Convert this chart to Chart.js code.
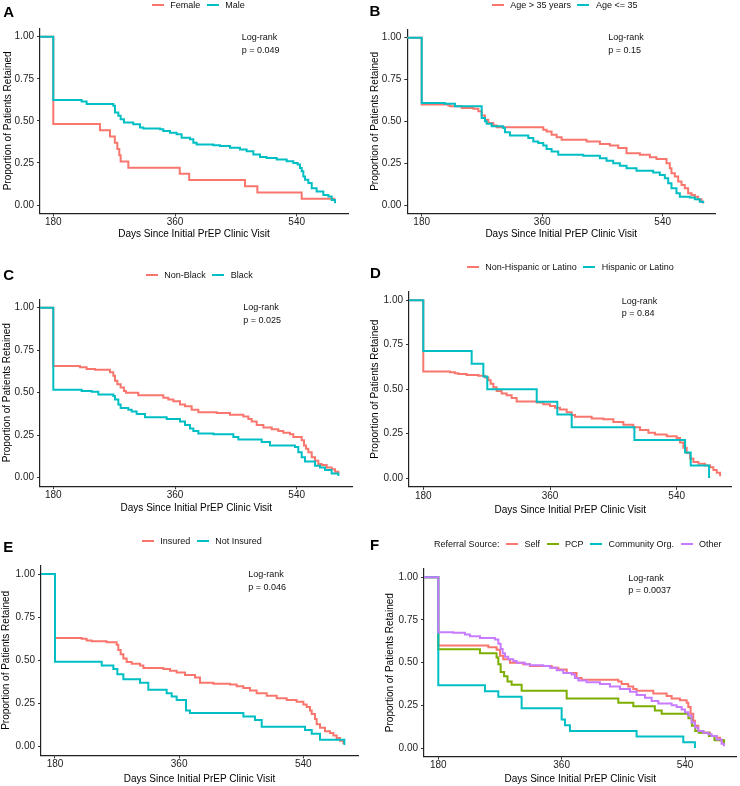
<!DOCTYPE html>
<html><head><meta charset="utf-8">
<script src="https://cdn.jsdelivr.net/npm/chart.js@4.4.0/dist/chart.umd.min.js"></script>
<style>
body{margin:0;background:#fff;width:740px;height:786px;position:relative;overflow:hidden;font-family:"Liberation Sans",Arial,sans-serif;color:#111;}
canvas{position:absolute;}
.tag{position:absolute;font-weight:bold;font-size:15px;line-height:15px;color:#000;}
.legend{position:absolute;display:flex;align-items:center;font-size:9px;line-height:12px;height:12px;white-space:nowrap;}
.key{display:inline-block;width:12px;height:2px;margin-right:6.5px;}
.lab{margin-right:6.5px;}
.lr{position:absolute;font-size:9px;line-height:12.5px;white-space:nowrap;}
</style>
</head><body>
<script>
// ---------- tick labels ----------
const xTicks = [180, 360, 540];
const yTicks = [0, 0.25, 0.5, 0.75, 1];

// ---------- A: Sex ----------
const aGroups = ["Female", "Male"];
const aFemaleDays = [0,180,249,263.8,271,274.7,277.6,279.6,291,367,381,463.5,481.8,547.4,597];
const aFemaleSurv = [1,0.481,0.444,0.407,0.370,0.333,0.296,0.259,0.222,0.185,0.148,0.111,0.074,0.037,0.037];
const aMaleDays = [0,180,221.9,229.3,268.8,271.2,276.2,279.6,284.5,298.3,308.2,313.1,337.8,342.7,352.6,362.4,369.8,382.2,387.1,392,416.7,426.6,441.3,456.1,466,475.9,485.7,495.6,510.4,525.2,535,541.4,544.9,547.4,549.8,552.3,557.2,562.2,569.5,579.4,586.8,591.7,596.7];
const aMaleSurv = [1,0.624,0.615,0.60,0.59,0.55,0.53,0.51,0.49,0.48,0.46,0.455,0.45,0.44,0.43,0.42,0.40,0.39,0.37,0.36,0.355,0.35,0.34,0.33,0.32,0.30,0.285,0.28,0.27,0.26,0.25,0.24,0.22,0.20,0.17,0.15,0.13,0.10,0.08,0.06,0.05,0.03,0.01];

// ---------- B: Age ----------
const bGroups = ["Age > 35 years", "Age <= 35"];
const bOlderDays = [0,180,219.8,222.3,239.7,257.1,264.6,269.6,274.5,279.5,287,291.9,361.6,366.6,374,381.5,389,426.3,446.2,461.1,473.5,486,505.9,520.8,530.7,545.7,550.6,553.1,558.1,563.1,568.1,573,578,583,588,592.9,597.9,600.4];
const bOlderSurv = [1,0.60,0.595,0.59,0.58,0.575,0.56,0.535,0.51,0.49,0.475,0.465,0.45,0.44,0.42,0.405,0.39,0.38,0.365,0.355,0.34,0.31,0.30,0.285,0.275,0.25,0.22,0.19,0.17,0.14,0.12,0.10,0.07,0.06,0.05,0.035,0.02,0.01];
const bYoungerDays = [0,180,214.8,229.8,269.6,274.5,277,284.5,301.9,304.4,311.8,339.2,346.7,354.1,361.6,366.6,374,384,421.3,446.2,456.1,466.1,476,486,500.9,525.8,535.7,543.2,548.2,553.1,560.6,565.6,580.5,588,595.4,600.4];
const bYoungerSurv = [1,0.61,0.605,0.59,0.52,0.50,0.485,0.47,0.46,0.435,0.415,0.40,0.38,0.37,0.355,0.335,0.32,0.30,0.295,0.28,0.265,0.25,0.235,0.22,0.205,0.195,0.18,0.16,0.13,0.10,0.07,0.05,0.045,0.035,0.02,0.01];

// ---------- C: Race ----------
const cGroups = ["Non-Black", "Black"];
const cNonBlackDays = [0,180,219.4,229.3,241.6,263.8,268.8,271.2,274.7,279.6,284.5,287.5,305.7,342.7,350.1,357.5,367.4,374.8,384.6,394.5,421.6,441.3,461.1,468.5,473.4,480.8,490.7,503,512.8,520.2,530.1,535,547.4,550.8,553.7,557.2,562.2,567.1,572,576.9,584.3,591.7,596.7,601.6];
const cNonBlackSurv = [1,0.657,0.65,0.64,0.635,0.62,0.60,0.57,0.55,0.53,0.51,0.50,0.485,0.47,0.46,0.45,0.43,0.42,0.40,0.385,0.38,0.37,0.36,0.345,0.33,0.31,0.295,0.285,0.275,0.265,0.255,0.24,0.22,0.19,0.17,0.15,0.12,0.10,0.08,0.075,0.06,0.05,0.035,0.02];
const cBlackDays = [0,180,221.9,236.7,246.6,268.8,271.2,276.2,279.6,290.9,295.9,303.3,315.6,347.7,367.4,374.8,382.2,387.1,394.5,416.7,446.3,453.7,488.2,500.5,537.5,542.4,547.4,552.3,567.1,574.5,581.9,591.7,601.6];
const cBlackSurv = [1,0.518,0.51,0.505,0.49,0.48,0.46,0.43,0.41,0.40,0.39,0.375,0.355,0.345,0.33,0.31,0.29,0.275,0.26,0.255,0.24,0.225,0.21,0.19,0.18,0.15,0.12,0.095,0.07,0.06,0.045,0.025,0.01];

// ---------- D: Ethnicity ----------
const dGroups = ["Non-Hispanic or Latino", "Hispanic or Latino"];
const dNonHispDays = [0,180,217.9,225,229.7,241.6,258.2,267.6,272.4,275.7,279.5,284.2,291.3,298.4,305.5,312.6,341.1,350.5,360,367.1,374.2,383.7,390.8,395.5,419.2,435.8,450,464.2,478.4,487.9,499.8,509.2,525.8,540,544.7,549.5,554.2,559,563.7,570.8,580.3,587.4,592.1,596.9,601.6];
const dNonHispSurv = [1,0.60,0.595,0.59,0.585,0.58,0.575,0.565,0.55,0.53,0.51,0.49,0.475,0.465,0.45,0.43,0.425,0.415,0.405,0.395,0.385,0.37,0.355,0.345,0.335,0.33,0.315,0.30,0.285,0.27,0.255,0.245,0.235,0.225,0.20,0.17,0.14,0.11,0.09,0.08,0.07,0.06,0.045,0.03,0.01];
const dHispDays = [0,180,248.7,265.3,270.9,341.1,370.4,390.8,479.9,551.9,559.9,586];
const dHispSurv = [1,0.714,0.643,0.571,0.50,0.429,0.357,0.286,0.214,0.143,0.071,0];

// ---------- E: Insurance ----------
const eGroups = ["Insured", "Not Insured"];
const eInsuredDays = [0,180,218.7,225.9,233.2,254.9,269.4,271.8,275.2,279.1,283.9,291.2,303.2,308.1,337.1,346.7,356.4,368.5,383,390.2,409.6,433.7,443.4,453.1,462.7,472.4,486.9,501.4,515.9,530.4,540.1,544.9,549.7,552.2,557,559.4,564.2,571.5,578.7,583.6,588.4,593.2,598.1];
const eInsuredSurv = [1,0.63,0.625,0.615,0.61,0.605,0.59,0.56,0.535,0.51,0.49,0.48,0.47,0.455,0.45,0.44,0.43,0.415,0.40,0.37,0.365,0.36,0.35,0.34,0.325,0.31,0.295,0.28,0.27,0.26,0.245,0.23,0.21,0.19,0.16,0.13,0.11,0.09,0.08,0.065,0.05,0.035,0.015];
const eUninsuredDays = [0,180,247.7,264.6,270.4,279.1,303.2,315.3,341.9,349.2,356.4,369.9,375.7,453.1,470,479.7,542.5,552.2,564.2,599.5];
const eUninsuredSurv = [1,0.492,0.47,0.45,0.42,0.39,0.37,0.33,0.31,0.29,0.27,0.21,0.195,0.175,0.155,0.115,0.097,0.075,0.04,0.01];

// ---------- F: Referral source ----------
const fGroups = ["Self", "PCP", "Community Org.", "Other"];
const fSelfDays = [0,180,253,265.1,270,274.8,284.6,304,313.8,345.4,355.1,367.3,381.8,389.1,442.6,447.5,457.2,464.5,469.4,493.7,513.2,520.5,532.6,542.4,544.8,548.2,552.1,554.5,559.4,566.7,576.4,586.1,591,595.9];
const fSelfSurv = [1,0.60,0.59,0.575,0.54,0.52,0.50,0.49,0.48,0.47,0.46,0.44,0.41,0.40,0.39,0.375,0.36,0.345,0.335,0.32,0.305,0.29,0.28,0.265,0.24,0.20,0.16,0.13,0.10,0.09,0.07,0.06,0.045,0.02];
const fPcpDays = [0,180,240.8,265,267.6,271,276,281,287,301.6,367.3,442.7,464.6,496,506,545,550,555,560,575,583,597];
const fPcpSurv = [1,0.578,0.555,0.53,0.49,0.445,0.42,0.39,0.37,0.335,0.29,0.265,0.245,0.22,0.20,0.175,0.13,0.10,0.09,0.07,0.045,0.02];
const fCommunityDays = [0,180,248.1,267.6,301.6,360,364.8,372.1,469.4,537.5,554.5];
const fCommunitySurv = [1,0.367,0.333,0.30,0.233,0.167,0.133,0.10,0.067,0.033,0];
const fOtherDays = [0,180,201.9,218.9,226.2,240.8,262.7,267.6,271,273.9,277.3,282.1,289.4,294.3,306.5,313.8,333.2,342.9,352.7,362.4,374.6,379.4,384.3,396.4,415.9,430.5,445.1,459.7,469.4,481.6,491.3,501,520.5,527.8,535.1,539.9,544.8,549.6,554.5,559.4,566.7,574,578.8,586.1,593.4,596.8];
const fOtherSurv = [1,0.678,0.675,0.665,0.655,0.645,0.635,0.61,0.58,0.555,0.535,0.52,0.51,0.50,0.49,0.485,0.48,0.47,0.455,0.44,0.43,0.41,0.395,0.385,0.375,0.36,0.345,0.33,0.31,0.295,0.275,0.26,0.25,0.24,0.225,0.21,0.19,0.15,0.12,0.10,0.09,0.08,0.07,0.05,0.025,0.01];

const pValues = ["0.049", "0.15", "0.025", "0.84", "0.046", "0.0037"];

// ---------- styles ----------
const RED = "#F8766D", TEAL = "#00BFC4", GREEN = "#7CAE00", PURPLE = "#C77CFF";
const FONT = "'Liberation Sans', Arial, sans-serif";

function pts(days, surv) { return days.map((d, i) => ({x: d, y: surv[i]})); }

const panels = [
  {tag:"A", ox:0, oy:0, left:40, right:348, y1:36.7, y0:205, x180:53.3, x540:296.7, ytx:8, xtGap:21,
   tagPos:[3.3,11.3], legPos:[151.7,5], lrPos:[241.7,37.7], p:pValues[0],
   legend: aGroups.map((g,i)=>({label:g, color:[RED,TEAL][i]})),
   series:[{label:aGroups[1], data:pts(aMaleDays,aMaleSurv), color:TEAL, order:0},
           {label:aGroups[0], data:pts(aFemaleDays,aFemaleSurv), color:RED, order:1}]},
  {tag:"B", ox:370, oy:0, left:407.3, right:715, y1:37.7, y0:205, x180:421.7, x540:662.7, ytx:5.5, xtGap:21,
   tagPos:[369.5,10], legPos:[491.7,5], lrPos:[608.3,37.7], p:pValues[1],
   legend: bGroups.map((g,i)=>({label:g, color:[RED,TEAL][i]})),
   series:[{label:bGroups[1], data:pts(bYoungerDays,bYoungerSurv), color:TEAL, order:0},
           {label:bGroups[0], data:pts(bOlderDays,bOlderSurv), color:RED, order:1}]},
  {tag:"C", ox:0, oy:262, left:40, right:352.7, y1:307.7, y0:477.7, x180:53.3, x540:296.7, ytx:7.5, xtGap:22,
   tagPos:[3.3,274.3], legPos:[145.7,275.3], lrPos:[243.3,307.7], p:pValues[2],
   legend: cGroups.map((g,i)=>({label:g, color:[RED,TEAL][i]})),
   series:[{label:cGroups[1], data:pts(cBlackDays,cBlackSurv), color:TEAL, order:0},
           {label:cGroups[0], data:pts(cNonBlackDays,cNonBlackSurv), color:RED, order:1}]},
  {tag:"D", ox:370, oy:262, left:409, right:731.7, y1:300.3, y0:478, x180:423.3, x540:676.7, ytx:5.5, xtGap:23.4,
   tagPos:[370,272], legPos:[466.7,267], lrPos:[621.7,301], p:pValues[3],
   legend: dGroups.map((g,i)=>({label:g, color:[RED,TEAL][i]})),
   series:[{label:dGroups[1], data:pts(dHispDays,dHispSurv), color:TEAL, order:0},
           {label:dGroups[0], data:pts(dNonHispDays,dNonHispSurv), color:RED, order:1}]},
  {tag:"E", ox:0, oy:524, left:41, right:358, y1:574, y0:746.7, x180:55, x540:303.3, ytx:6.3, xtGap:24,
   tagPos:[3.3,546.5], legPos:[141.7,541.3], lrPos:[248.3,574.7], p:pValues[4],
   legend: eGroups.map((g,i)=>({label:g, color:[RED,TEAL][i]})),
   series:[{label:eGroups[1], data:pts(eUninsuredDays,eUninsuredSurv), color:TEAL, order:0},
           {label:eGroups[0], data:pts(eInsuredDays,eInsuredSurv), color:RED, order:1}]},
  {tag:"F", ox:370, oy:524, left:424, right:736.7, y1:577.3, y0:748, x180:438.3, x540:685, ytx:20.3, xtGap:22.7,
   tagPos:[370,544], legPos:[434,544.3], lrPos:[628.3,578], p:pValues[5], legendTitle:"Referral Source:",
   legend: fGroups.map((g,i)=>({label:g, color:[RED,GREEN,TEAL,PURPLE][i]})),
   series:[{label:fGroups[3], data:pts(fOtherDays,fOtherSurv), color:PURPLE, order:0},
           {label:fGroups[2], data:pts(fCommunityDays,fCommunitySurv), color:TEAL, order:1},
           {label:fGroups[1], data:pts(fPcpDays,fPcpSurv), color:GREEN, order:2},
           {label:fGroups[0], data:pts(fSelfDays,fSelfSurv), color:RED, order:3}]}
];

const W = 370, H = 262;

panels.forEach(cfg => {
  const canvas = document.createElement('canvas');
  canvas.width = W; canvas.height = H;
  canvas.style.left = cfg.ox + 'px'; canvas.style.top = cfg.oy + 'px';
  canvas.style.width = W + 'px'; canvas.style.height = H + 'px';
  document.body.appendChild(canvas);

  const L = cfg.left - cfg.ox, R = cfg.right - cfg.ox;
  const y1 = cfg.y1 - cfg.oy, y0 = cfg.y0 - cfg.oy;
  const unit = y0 - y1;
  const T = y1 - 0.05 * unit, Bm = y0 + 0.05 * unit;
  const ppd = (cfg.x540 - cfg.x180) / 360;
  const xmin = 180 - (cfg.x180 - cfg.left) / ppd;
  const xmax = 540 + (cfg.right - cfg.x540) / ppd;
  const padLeft = Math.max(0, cfg.ytx - 5);
  const yW = L - padLeft;
  const xH = cfg.xtGap + 6;
  const padBottom = H - Bm - xH;

  new Chart(canvas, {
    type: 'line',
    data: {
      datasets: cfg.series.map(s => ({
        label: s.label, data: s.data, order: s.order,
        borderColor: s.color, backgroundColor: s.color,
        borderWidth: 2, stepped: true, pointRadius: 0, pointHoverRadius: 0,
        fill: false, tension: 0
      }))
    },
    options: {
      responsive: false, animation: false, devicePixelRatio: 1,
      events: [],
      layout: {padding: {left: padLeft, right: W - R, top: T, bottom: padBottom}},
      plugins: {legend: {display: false}, tooltip: {enabled: false}},
      scales: {
        x: {
          type: 'linear', min: xmin, max: xmax,
          afterBuildTicks: s => { s.ticks = xTicks.map(v => ({value: v})); },
          afterFit: s => { s.height = xH; },
          ticks: {font: {family: FONT, size: 10, lineHeight: 1.2}, color: '#222', padding: 0, maxRotation: 0, autoSkip: false,
                  callback: v => String(v)},
          grid: {display: true, drawOnChartArea: false, drawTicks: true, tickLength: 3, tickColor: '#333', tickWidth: 1},
          border: {display: true, color: '#222', width: 1.2},
          title: {display: true, text: 'Days Since Initial PrEP Clinic Visit', color: '#000',
                  font: {family: FONT, size: 10, lineHeight: 1.2}, padding: {top: 0, bottom: 0}}
        },
        y: {
          type: 'linear', min: -0.05, max: 1.05,
          afterBuildTicks: s => { s.ticks = yTicks.map(v => ({value: v})); },
          afterFit: s => { s.width = yW; },
          ticks: {font: {family: FONT, size: 10, lineHeight: 1.2}, color: '#222', padding: 3,
                  callback: v => Number(v).toFixed(2)},
          grid: {display: true, drawOnChartArea: false, drawTicks: true, tickLength: 3, tickColor: '#333', tickWidth: 1},
          border: {display: true, color: '#222', width: 1.2},
          title: {display: true, text: 'Proportion of Patients Retained', color: '#000',
                  font: {family: FONT, size: 10, lineHeight: 1.0}, padding: {top: 0, bottom: 0}}
        }
      }
    }
  });

  // panel tag
  const tag = document.createElement('div');
  tag.className = 'tag'; tag.textContent = cfg.tag;
  tag.style.left = cfg.tagPos[0] + 'px'; tag.style.top = (cfg.tagPos[1] - 7.5) + 'px';
  document.body.appendChild(tag);

  // legend
  const leg = document.createElement('div');
  leg.className = 'legend';
  leg.style.left = cfg.legPos[0] + 'px'; leg.style.top = (cfg.legPos[1] - 6) + 'px';
  if (cfg.legendTitle) {
    const t = document.createElement('span'); t.className = 'lab'; t.textContent = cfg.legendTitle;
    leg.appendChild(t);
  }
  cfg.legend.forEach(it => {
    const k = document.createElement('span'); k.className = 'key'; k.style.background = it.color;
    const l = document.createElement('span'); l.className = 'lab'; l.textContent = it.label;
    leg.appendChild(k); leg.appendChild(l);
  });
  document.body.appendChild(leg);

  // log-rank annotation
  const lr = document.createElement('div');
  lr.className = 'lr';
  lr.style.left = cfg.lrPos[0] + 'px'; lr.style.top = (cfg.lrPos[1] - 6.25) + 'px';
  lr.innerHTML = 'Log-rank<br>p = ' + cfg.p;
  document.body.appendChild(lr);
});
</script>
</body></html>
